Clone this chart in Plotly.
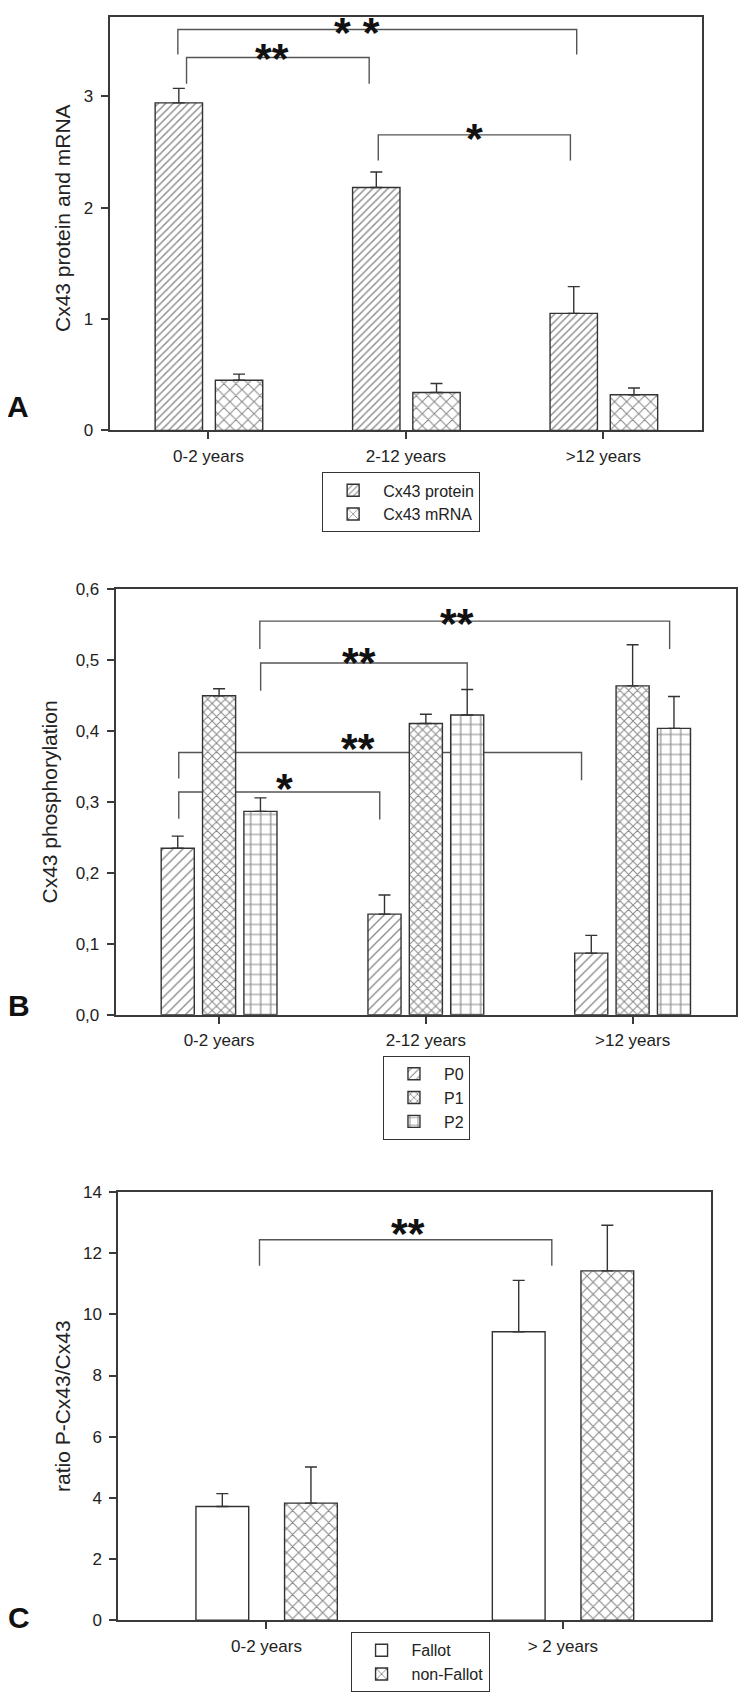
import plotly.graph_objects as go

# figure size and the measured placement of the figure inside the 746x1698 page
W, H = 730, 1698
X0 = 8            # page x of figure left edge
Y0, SY = 17, 0.988  # page y of figure top edge, vertical scale of the page capture

# ---------------- data ----------------
# Panel A
cat_A = ["0-2 years", "2-12 years", ">12 years"]
protein = [2.94, 2.18, 1.05]
protein_err = [0.13, 0.14, 0.24]
mrna = [0.45, 0.34, 0.32]
mrna_err = [0.055, 0.08, 0.06]
yticks_A = [0, 1, 2, 3]

# Panel B
cat_B = ["0-2 years", "2-12 years", ">12 years"]
p0 = [0.235, 0.142, 0.087]
p0_err = [0.017, 0.027, 0.025]
p1 = [0.450, 0.411, 0.464]
p1_err = [0.010, 0.013, 0.058]
p2 = [0.287, 0.423, 0.404]
p2_err = [0.019, 0.036, 0.045]
yticks_B = [0.0, 0.1, 0.2, 0.3, 0.4, 0.5, 0.6]
yticktext_B = ["0,0", "0,1", "0,2", "0,3", "0,4", "0,5", "0,6"]

# Panel C
cat_C = ["0-2 years", "> 2 years"]
fallot = [3.72, 9.43]
fallot_err = [0.42, 1.68]
nonfallot = [3.83, 11.42]
nonfallot_err = [1.18, 1.49]
yticks_C = [0, 2, 4, 6, 8, 10, 12, 14]

# significance brackets: (x_left, x_right, y_top, y_left_leg_end, y_right_leg_end, label, label_x, label_y)
brackets_A = [
    (-0.111, 0.814, 3.347, 3.111, 3.111, "**", 0.322, 3.42),
    (-0.155, 1.865, 3.599, 3.374, 3.374, "* *", 0.752, 3.66),
    (0.860, 1.833, 2.653, 2.423, 2.423, "*", 1.349, 2.707),
]
brackets_B = [
    (0.197, 2.179, 0.5553, 0.516, 0.516, "**", 1.150, 0.566),
    (0.201, 1.200, 0.4963, 0.457, 0.457, "**", 0.678, 0.510),
    (-0.195, 1.753, 0.370, 0.3335, 0.331, "**", 0.673, 0.389),
    (-0.195, 0.777, 0.3144, 0.2766, 0.2755, "*", 0.314, 0.332),
]
brackets_C = [
    (-0.0236, 0.9627, 12.44, 11.59, 11.59, "**", 0.477, 12.96),
]

# ---------------- style ----------------
FONT = "Liberation Sans, Arial, sans-serif"
INK = "#222222"
FRAME = "#3a3a3a"
EDGE = "#333333"


def px_x(p):
    return min(1.0, max(0.0, (p - X0) / W))


def fig_y(p):
    return (p - Y0) / SY


def px_y(p):
    return min(1.0, max(0.0, 1 - fig_y(p) / H))


def y_layout(page_bottom, page_top, vmax):
    """domain and range so that value 0 sits at page_bottom and vmax at page_top."""
    fb, ft = fig_y(page_bottom), fig_y(page_top)
    top = vmax
    if ft < 0:
        top = vmax * fb / (fb - ft)
        ft = 0
    return [1 - fb / H, 1 - ft / H], [0, top]


fig = go.Figure()


def add_bar(cats, vals, errs, name, shape, size, solidity, width, offset, ax, legend):
    xs = list(range(len(cats)))
    pattern = dict(shape=shape, size=size, solidity=solidity, fgcolor="#111111", bgcolor="white")
    fig.add_trace(go.Bar(
        x=xs, y=vals, name=name,
        width=width, offset=offset,
        marker=dict(color="white", pattern=pattern, line=dict(color=EDGE, width=1.4)),
        error_y=dict(type="data", array=errs, arrayminus=[0] * len(errs), symmetric=False,
                     color=EDGE, thickness=1.4, width=6),
        xaxis="x" + ax, yaxis="y" + ax, legend=legend,
        hoverinfo="skip",
    ))


# Panel A traces
add_bar(cat_A, protein, protein_err, "Cx43 protein", "/", 5.3, 0.25, 0.24, -0.27, "", "legend")
add_bar(cat_A, mrna, mrna_err, "Cx43 mRNA", "x", 8.5, 0.23, 0.24, 0.035, "", "legend")

# Panel B traces
add_bar(cat_B, p0, p0_err, "P0", "/", 7.0, 0.19, 0.16, -0.28, "2", "legend2")
add_bar(cat_B, p1, p1_err, "P1", "x", 6.2, 0.3, 0.16, -0.08, "2", "legend2")
add_bar(cat_B, p2, p2_err, "P2", "+", 10, 0.22, 0.16, 0.12, "2", "legend2")

# Panel C traces
add_bar(cat_C, fallot, fallot_err, "Fallot", "", 8, 0.2, 0.178, -0.238, "3", "legend3")
add_bar(cat_C, nonfallot, nonfallot_err, "non-Fallot", "x", 8.5, 0.25, 0.178, 0.061, "3", "legend3")

shapes = []
annotations = []


def add_brackets(brs, ax):
    xr = "x" + ax
    yr = "y" + ax
    for (x0, x1, yt, yl0, yl1, lab, lx, ly) in brs:
        shapes.append(dict(
            type="path", xref=xr, yref=yr, layer="below",
            path=f"M{x0},{yl0} L{x0},{yt} L{x1},{yt} L{x1},{yl1}",
            line=dict(color="#555555", width=1.4),
        ))
        annotations.append(dict(
            x=lx, y=ly, xref=xr, yref=yr, text="<b>" + lab + "</b>", showarrow=False,
            xanchor="center", yanchor="middle", yshift=-9,
            font=dict(family=FONT, size=43, color="#111111"),
        ))


add_brackets(brackets_A, "")
add_brackets(brackets_B, "2")
add_brackets(brackets_C, "3")

# y-axis titles and panel letters (page pixel positions)
ytitles = [
    ("Cx43 protein and mRNA", 62, 218),
    ("Cx43 phosphorylation", 50, 801),
    ("ratio P-Cx43/Cx43", 62, 1405),
]
for txt, px, py in ytitles:
    annotations.append(dict(
        x=px_x(px), y=px_y(py), xref="paper", yref="paper", text=txt, textangle=-90,
        showarrow=False, xanchor="center", yanchor="middle",
        font=dict(family=FONT, size=21, color=INK),
    ))

letters = [("A", 18.5, 406), ("B", 19, 1005), ("C", 18.6, 1616)]
for txt, px, py in letters:
    annotations.append(dict(
        x=px_x(px), y=px_y(py), xref="paper", yref="paper", text="<b>" + txt + "</b>",
        showarrow=False, xanchor="center", yanchor="middle",
        font=dict(family=FONT, size=30, color="#111111"),
    ))


def xaxis(domain, cats, rng, anchor):
    return dict(
        domain=domain, range=rng, tickvals=list(range(len(cats))), ticktext=cats,
        anchor=anchor,
        showline=True, mirror=True, linecolor=FRAME, linewidth=2,
        ticks="outside", ticklen=7, tickwidth=1.5, tickcolor=FRAME,
        showgrid=False, zeroline=False, fixedrange=True,
        tickfont=dict(family=FONT, size=17, color=INK), ticklabelstandoff=2,
    )


def yaxis(page_bottom, page_top, vmax, tickvals, anchor, ticktext=None):
    domain, rng = y_layout(page_bottom, page_top, vmax)
    d = dict(
        domain=domain, range=rng, tickvals=tickvals, anchor=anchor,
        showline=True, mirror=True, linecolor=FRAME, linewidth=2,
        ticks="outside", ticklen=7, tickwidth=1.5, tickcolor=FRAME,
        showgrid=False, zeroline=False, fixedrange=True,
        tickfont=dict(family=FONT, size=17, color=INK), ticklabelstandoff=4,
    )
    if ticktext is not None:
        d["ticktext"] = ticktext
    return d


def legend(px, py):
    return dict(
        x=px_x(px), y=px_y(py), xanchor="left", yanchor="top",
        bordercolor="#333333", borderwidth=1, bgcolor="white",
        font=dict(family=FONT, size=16, color=INK), itemwidth=50,
        traceorder="normal",
    )


fig.update_layout(
    width=W, height=H, autosize=False,
    margin=dict(l=0, r=0, t=0, b=0),
    paper_bgcolor="white", plot_bgcolor="white",
    barmode="overlay", showlegend=True,
    xaxis=xaxis([px_x(110), px_x(704)], cat_A, [-0.5, 2.5], "y"),
    yaxis=yaxis(430, 6, 3.81, yticks_A, "x"),
    xaxis2=xaxis([px_x(116), px_x(739)], cat_B, [-0.5, 2.5], "y2"),
    yaxis2=yaxis(1014, 589, 0.6, yticks_B, "x2", yticktext_B),
    xaxis3=xaxis([px_x(118.6), px_x(713)], cat_C, [-0.5, 1.5], "y3"),
    yaxis3=yaxis(1619, 1191, 14, yticks_C, "x3"),
    legend=legend(323, 472),
    legend2=legend(384, 1055),
    legend3=legend(351.5, 1631),
    shapes=shapes,
    annotations=annotations,
)

fig.write_html("out.html")
